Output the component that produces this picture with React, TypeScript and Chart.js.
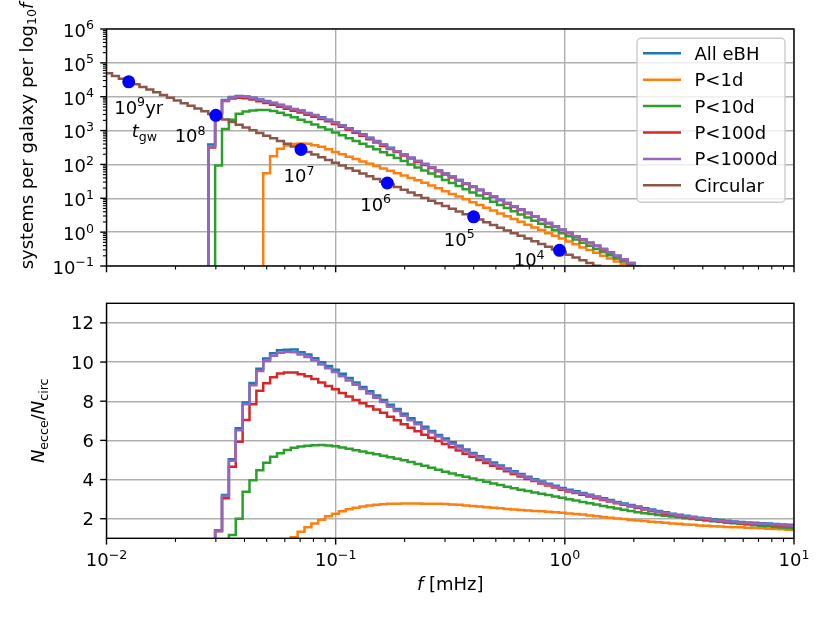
import { useEffect, useRef } from 'react';
import { Chart, registerables } from 'chart.js';

Chart.register(...registerables);

// ---------------------------------------------------------------
// data
// ---------------------------------------------------------------

// histogram bin edges, as log10(f / mHz)
const binEdgeExp = [
  -2.006, -1.976, -1.946, -1.916, -1.886, -1.856, -1.826, -1.796, -1.766, -1.736,
  -1.706, -1.676, -1.646, -1.616, -1.586, -1.556, -1.526, -1.496, -1.466, -1.436,
  -1.406, -1.376, -1.346, -1.316, -1.286, -1.256, -1.226, -1.196, -1.166, -1.136,
  -1.106, -1.076, -1.046, -1.016, -0.986, -0.956, -0.926, -0.896, -0.866, -0.836,
  -0.806, -0.776, -0.746, -0.716, -0.686, -0.656, -0.626, -0.596, -0.566, -0.536,
  -0.506, -0.476, -0.446, -0.416, -0.386, -0.356, -0.326, -0.296, -0.266, -0.236,
  -0.206, -0.176, -0.146, -0.116, -0.086, -0.056, -0.026, 0.004, 0.034, 0.064,
  0.094, 0.124, 0.154, 0.184, 0.214, 0.244, 0.274, 0.304, 0.334, 0.364,
  0.394, 0.424, 0.454, 0.484, 0.514, 0.544, 0.574, 0.604, 0.634, 0.664,
  0.694, 0.724, 0.754, 0.784, 0.814, 0.844, 0.874, 0.904, 0.934, 0.964,
  0.994, 1.024,
];

const xTickExps = [-2, -1, 0, 1];
const topYTickExps = [-1, 0, 1, 2, 3, 4, 5, 6];
const bottomYTicks = [2, 4, 6, 8, 10, 12];

// upper panel: log10(systems per galaxy per log10 f), one value per bin, null = empty
const topAllEBH = [
  null, null, null, null, null, null, null, null, null, null,
  null, null, null, null, null, 2.59, 3.52, 3.90, 3.99, 4.02,
  4.01, 3.97, 3.92, 3.87, 3.82, 3.76, 3.70, 3.64, 3.59, 3.52,
  3.46, 3.39, 3.32, 3.24, 3.16, 3.07, 2.98, 2.89, 2.79, 2.69,
  2.59, 2.49, 2.39, 2.29, 2.20, 2.10, 2.01, 1.92, 1.82, 1.73,
  1.64, 1.54, 1.44, 1.35, 1.25, 1.15, 1.06, 0.96, 0.86, 0.76,
  0.67, 0.57, 0.47, 0.37, 0.27, 0.17, 0.07, -0.02, -0.12, -0.21,
  -0.31, -0.40, -0.50, -0.60, -0.70, -0.80, -0.91, -1.02,
];
const topP1d = [
  null, null, null, null, null, null, null, null, null, null,
  null, null, null, null, null, null, null, null, null, null,
  null, null, null, 1.74, 2.24, 2.46, 2.56, 2.60, 2.62, 2.61,
  2.57, 2.52, 2.45, 2.37, 2.30, 2.23, 2.16, 2.09, 2.02, 1.95,
  1.88, 1.81, 1.74, 1.67, 1.60, 1.53, 1.46, 1.38, 1.30, 1.21,
  1.13, 1.05, 0.97, 0.88, 0.80, 0.72, 0.64, 0.55, 0.47, 0.39,
  0.31, 0.22, 0.14, 0.06, -0.03, -0.11, -0.19, -0.28, -0.36, -0.45,
  -0.53, -0.61, -0.70, -0.78, -0.87, -0.95, -1.04,
];
const topP10d = [
  null, null, null, null, null, null, null, null, null, null,
  null, null, null, null, null, null, 1.97, 3.05, 3.32, 3.50,
  3.56, 3.59, 3.61, 3.61, 3.58, 3.53, 3.46, 3.39, 3.32, 3.25,
  3.18, 3.10, 3.03, 2.94, 2.86, 2.77, 2.69, 2.61, 2.53, 2.45,
  2.36, 2.28, 2.19, 2.10, 2.00, 1.91, 1.82, 1.73, 1.64, 1.54,
  1.45, 1.36, 1.27, 1.17, 1.08, 0.99, 0.90, 0.80, 0.71, 0.62,
  0.52, 0.43, 0.34, 0.25, 0.15, 0.06, -0.03, -0.12, -0.22, -0.31,
  -0.40, -0.50, -0.59, -0.68, -0.78, -0.87, -0.96, -1.06,
];
const topP100d = [
  null, null, null, null, null, null, null, null, null, null,
  null, null, null, null, null, 2.50, 3.50, 3.87, 3.95, 3.97,
  3.955, 3.915, 3.865, 3.815, 3.765, 3.705, 3.645, 3.585, 3.535, 3.465,
  3.405, 3.345, 3.275, 3.195, 3.115, 3.025, 2.935, 2.845, 2.745, 2.645,
  2.545, 2.455, 2.365, 2.265, 2.175, 2.075, 1.985, 1.895, 1.795, 1.705,
  1.615, 1.525, 1.425, 1.335, 1.235, 1.135, 1.045, 0.945, 0.845, 0.745,
  0.655, 0.56, 0.46, 0.36, 0.26, 0.16, 0.06, -0.03, -0.13, -0.22,
  -0.32, -0.41, -0.51, -0.61, -0.71, -0.81, -0.92, -1.03,
];
const topP1000d = [
  null, null, null, null, null, null, null, null, null, null,
  null, null, null, null, null, 2.53, 3.51, 3.89, 3.98, 4.01,
  4.00, 3.96, 3.91, 3.86, 3.81, 3.75, 3.69, 3.63, 3.58, 3.51,
  3.45, 3.38, 3.31, 3.23, 3.15, 3.06, 2.97, 2.88, 2.78, 2.68,
  2.58, 2.48, 2.39, 2.29, 2.20, 2.10, 2.01, 1.92, 1.82, 1.73,
  1.64, 1.54, 1.44, 1.35, 1.25, 1.15, 1.06, 0.96, 0.86, 0.76,
  0.67, 0.57, 0.47, 0.37, 0.27, 0.17, 0.07, -0.02, -0.12, -0.21,
  -0.31, -0.40, -0.50, -0.60, -0.70, -0.80, -0.91, -1.02,
];
const topCircular = [
  4.69, 4.61, 4.53, 4.45, 4.37, 4.29, 4.21, 4.13, 4.05, 3.97,
  3.89, 3.81, 3.73, 3.65, 3.57, 3.49, 3.41, 3.33, 3.25, 3.17,
  3.09, 3.01, 2.93, 2.85, 2.77, 2.69, 2.61, 2.53, 2.45, 2.37,
  2.29, 2.21, 2.13, 2.05, 1.97, 1.89, 1.81, 1.73, 1.65, 1.57,
  1.49, 1.41, 1.33, 1.25, 1.17, 1.09, 1.01, 0.93, 0.85, 0.77,
  0.69, 0.61, 0.53, 0.45, 0.37, 0.29, 0.21, 0.13, 0.05, -0.03,
  -0.11, -0.19, -0.27, -0.35, -0.43, -0.51, -0.59, -0.67, -0.75, -0.83,
  -0.91, -0.99, -1.07,
];

// lower panel: N_ecce / N_circ, one value per bin, null = empty
const ratioAllEBH = [
  null, null, null, null, null, null, null, null, null, null,
  null, null, null, null, null, null, 1.41, 3.21, 5.04, 6.62,
  7.94, 8.93, 9.66, 10.18, 10.45, 10.60, 10.63, 10.64, 10.50, 10.38,
  10.20, 9.99, 9.80, 9.61, 9.40, 9.18, 8.95, 8.73, 8.51, 8.29,
  8.06, 7.82, 7.60, 7.36, 7.13, 6.91, 6.69, 6.48, 6.28, 6.09,
  5.90, 5.72, 5.54, 5.36, 5.19, 5.03, 4.87, 4.72, 4.57, 4.42,
  4.28, 4.14, 4.02, 3.90, 3.79, 3.68, 3.57, 3.48, 3.40, 3.31,
  3.22, 3.13, 3.04, 2.95, 2.86, 2.78, 2.70, 2.62, 2.54, 2.47,
  2.40, 2.33, 2.26, 2.20, 2.15, 2.10, 2.05, 2.01, 1.97, 1.93,
  1.89, 1.86, 1.83, 1.81, 1.79, 1.77, 1.75, 1.73, 1.71, 1.69,
  1.67,
];
const ratioP1d = [
  null, null, null, null, null, null, null, null, null, null,
  null, null, null, null, null, null, null, null, null, null,
  null, null, null, null, null, null, null, 1.05, 1.33, 1.56,
  1.76, 1.95, 2.12, 2.26, 2.38, 2.48, 2.56, 2.62, 2.67, 2.71,
  2.74, 2.76, 2.77, 2.78, 2.78, 2.78, 2.77, 2.77, 2.76, 2.75,
  2.73, 2.71, 2.68, 2.65, 2.62, 2.59, 2.56, 2.53, 2.50, 2.47,
  2.44, 2.42, 2.40, 2.38, 2.36, 2.33, 2.30, 2.27, 2.24, 2.21,
  2.17, 2.13, 2.09, 2.05, 2.01, 1.98, 1.94, 1.91, 1.88, 1.85,
  1.82, 1.79, 1.76, 1.74, 1.71, 1.69, 1.66, 1.64, 1.62, 1.60,
  1.58, 1.57, 1.56, 1.54, 1.52, 1.51, 1.49, 1.47, 1.46, 1.44,
  1.42,
];
const ratioP10d = [
  null, null, null, null, null, null, null, null, null, null,
  null, null, null, null, null, null, null, null, 1.17, 2.00,
  3.38, 3.97, 4.48, 4.86, 5.17, 5.34, 5.51, 5.62, 5.69, 5.73,
  5.75, 5.76, 5.74, 5.70, 5.64, 5.57, 5.50, 5.43, 5.36, 5.29,
  5.22, 5.14, 5.06, 4.98, 4.90, 4.80, 4.70, 4.60, 4.50, 4.40,
  4.31, 4.22, 4.14, 4.06, 3.98, 3.89, 3.80, 3.72, 3.63, 3.55,
  3.48, 3.41, 3.34, 3.27, 3.21, 3.14, 3.07, 3.00, 2.93, 2.86,
  2.79, 2.72, 2.65, 2.58, 2.52, 2.46, 2.40, 2.33, 2.28, 2.24,
  2.19, 2.15, 2.11, 2.07, 2.03, 1.99, 1.95, 1.91, 1.87, 1.84,
  1.80, 1.77, 1.73, 1.70, 1.67, 1.64, 1.61, 1.58, 1.55, 1.52,
  1.49,
];
const ratioP100d = [
  null, null, null, null, null, null, null, null, null, null,
  null, null, null, null, null, null, 1.36, 3.04, 4.66, 5.93,
  7.04, 7.85, 8.54, 8.92, 9.22, 9.42, 9.47, 9.47, 9.38, 9.28,
  9.13, 8.95, 8.78, 8.61, 8.42, 8.24, 8.06, 7.90, 7.74, 7.58,
  7.41, 7.21, 7.03, 6.83, 6.64, 6.47, 6.29, 6.13, 5.97, 5.81,
  5.65, 5.48, 5.32, 5.16, 5.00, 4.85, 4.70, 4.56, 4.42, 4.28,
  4.15, 4.03, 3.92, 3.80, 3.70, 3.59, 3.48, 3.39, 3.31, 3.23,
  3.14, 3.05, 2.96, 2.88, 2.79, 2.71, 2.63, 2.55, 2.47, 2.40,
  2.33, 2.26, 2.20, 2.14, 2.09, 2.04, 1.99, 1.95, 1.91, 1.87,
  1.83, 1.80, 1.77, 1.75, 1.73, 1.71, 1.69, 1.67, 1.65, 1.63,
  1.61,
];
const ratioP1000d = [
  null, null, null, null, null, null, null, null, null, null,
  null, null, null, null, null, null, 1.39, 3.16, 4.96, 6.52,
  7.84, 8.81, 9.54, 10.05, 10.32, 10.48, 10.51, 10.50, 10.38, 10.26,
  10.08, 9.87, 9.68, 9.49, 9.28, 9.06, 8.84, 8.62, 8.40, 8.18,
  7.96, 7.72, 7.50, 7.26, 7.03, 6.82, 6.60, 6.40, 6.20, 6.01,
  5.82, 5.64, 5.46, 5.29, 5.12, 4.96, 4.80, 4.65, 4.50, 4.36,
  4.22, 4.09, 3.97, 3.85, 3.74, 3.63, 3.52, 3.43, 3.35, 3.27,
  3.18, 3.09, 3.00, 2.91, 2.82, 2.74, 2.66, 2.58, 2.50, 2.43,
  2.36, 2.29, 2.23, 2.17, 2.12, 2.07, 2.02, 1.98, 1.94, 1.90,
  1.86, 1.83, 1.80, 1.78, 1.76, 1.74, 1.72, 1.70, 1.68, 1.66,
  1.64,
];

// gravitational-wave inspiral time markers on the circular track
const tgwExps = [9, 8, 7, 6, 5, 4];
const tgwFreq = [0.0125, 0.0300, 0.0706, 0.168, 0.400, 0.948];
const tgwCount = [2.75e4, 2.82e3, 277, 28.3, 2.83, 0.29];

const seriesNames = ['All eBH', 'P<1d', 'P<10d', 'P<100d', 'P<1000d', 'Circular'];
const seriesColors = ['#1f77b4', '#ff7f0e', '#2ca02c', '#d62728', '#9467bd', '#8c564b'];

// ---------------------------------------------------------------
// drawing helpers
// ---------------------------------------------------------------

const FAMILY = '"DejaVu Sans", sans-serif';
const FS = 18;
const SMALL = FS * 0.7;
const GRID = '#b0b0b0';
const TICK_MAJOR = 6.3;
const TICK_MINOR = 3.6;
const TICK_PAD = 6.3;

type Part = { t: string; it?: boolean; sub?: boolean; sup?: boolean };

const partFont = (p: Part) => `${p.it ? 'italic ' : ''}${p.sub || p.sup ? SMALL : FS}px ${FAMILY}`;

function partsWidth(ctx: CanvasRenderingContext2D, parts: Part[]) {
  let w = 0;
  for (const p of parts) {
    ctx.font = partFont(p);
    w += ctx.measureText(p.t).width;
  }
  return w;
}

function drawParts(ctx: CanvasRenderingContext2D, parts: Part[], x: number, y: number) {
  ctx.textAlign = 'left';
  ctx.textBaseline = 'alphabetic';
  let cx = x;
  for (const p of parts) {
    ctx.font = partFont(p);
    ctx.fillText(p.t, cx, y + (p.sup ? -7.4 : p.sub ? 3.8 : 0));
    cx += ctx.measureText(p.t).width;
  }
}

const pow10 = (e: number): Part[] => [{ t: '10' }, { t: e < 0 ? `\u2212${-e}` : `${e}`, sup: true }];

const minorMult = [2, 3, 4, 5, 6, 7, 8, 9];
const xMajor = xTickExps.map((e) => 10 ** e);
const xMinor = xMajor.slice(0, -1).flatMap((d) => minorMult.map((m) => m * d));
const topYMajor = topYTickExps.map((e) => 10 ** e);
const topYMinor = topYMajor.slice(0, -1).flatMap((d) => minorMult.map((m) => m * d));

function line(ctx: CanvasRenderingContext2D, x0: number, y0: number, x1: number, y1: number) {
  ctx.beginPath();
  ctx.moveTo(x0, y0);
  ctx.lineTo(x1, y1);
  ctx.stroke();
}

function drawFrame(ctx: CanvasRenderingContext2D, a: any) {
  ctx.strokeStyle = '#000';
  ctx.lineWidth = 1.4;
  ctx.strokeRect(a.left, a.top, a.right - a.left, a.bottom - a.top);
}

function drawXTicks(ctx: CanvasRenderingContext2D, scale: any, y0: number) {
  ctx.strokeStyle = '#000';
  ctx.lineWidth = 1.4;
  for (const v of xMajor) { const p = scale.getPixelForValue(v); line(ctx, p, y0, p, y0 + TICK_MAJOR); }
  ctx.lineWidth = 1.1;
  for (const v of xMinor) { const p = scale.getPixelForValue(v); line(ctx, p, y0, p, y0 + TICK_MINOR); }
}

function drawYTicks(ctx: CanvasRenderingContext2D, scale: any, x0: number, major: number[], minor: number[]) {
  ctx.strokeStyle = '#000';
  ctx.lineWidth = 1.4;
  for (const v of major) { const p = scale.getPixelForValue(v); line(ctx, x0, p, x0 - TICK_MAJOR, p); }
  ctx.lineWidth = 1.1;
  for (const v of minor) { const p = scale.getPixelForValue(v); line(ctx, x0, p, x0 - TICK_MINOR, p); }
}

function drawRotated(ctx: CanvasRenderingContext2D, parts: Part[], x: number, cy: number) {
  ctx.save();
  ctx.translate(x, cy);
  ctx.rotate(-Math.PI / 2);
  drawParts(ctx, parts, -partsWidth(ctx, parts) / 2, 0);
  ctx.restore();
}

function stepPoints(values: (number | null)[], empty: number, toY: (v: number) => number) {
  const pts = values.map((v, i) => ({ x: 10 ** binEdgeExp[i], y: v === null ? empty : toY(v) }));
  pts.push({ x: 10 ** binEdgeExp[values.length], y: pts[pts.length - 1].y });
  return pts;
}

const stepStyle = (i: number, order: number) => ({
  label: seriesNames[i],
  borderColor: seriesColors[i],
  backgroundColor: seriesColors[i],
  borderWidth: 2.5,
  pointRadius: 0,
  stepped: 'before' as const,
  fill: false,
  order,
});

// text placement of the t_gw labels relative to their markers (px)
const tgwLabelOffset = [[-14.5, 31.8], [-41.2, 26.7], [-17.5, 32.7], [-27.1, 27.7], [-29.8, 29], [-45.8, 15.7]];

const topDecor = {
  id: 'topDecor',
  afterDraw(chart: any) {
    const { ctx, chartArea: a, scales } = chart;
    const xs = scales.x;
    const ys = scales.y;
    ctx.save();
    ctx.fillStyle = '#000';

    // t_gw labels
    tgwExps.forEach((e, i) => {
      const px = xs.getPixelForValue(tgwFreq[i]);
      const py = ys.getPixelForValue(tgwCount[i]);
      const parts = i === 0 ? [...pow10(e), { t: 'yr' }] : pow10(e);
      drawParts(ctx, parts, px + tgwLabelOffset[i][0], py + tgwLabelOffset[i][1]);
      if (i === 0) drawParts(ctx, [{ t: 't', it: true }, { t: 'gw', sub: true }], px + 3, py + 55);
    });

    // legend
    const bw = 148;
    const bh = 164;
    const bx = a.right - 157;
    const by = a.top + 9.3;
    ctx.beginPath();
    if ((ctx as any).roundRect) (ctx as any).roundRect(bx, by, bw, bh, 4);
    else ctx.rect(bx, by, bw, bh);
    ctx.fillStyle = 'rgba(255,255,255,0.8)';
    ctx.fill();
    ctx.strokeStyle = '#cccccc';
    ctx.lineWidth = 1.4;
    ctx.stroke();
    seriesNames.forEach((name, i) => {
      const cy = by + 15 + i * 26.4;
      ctx.strokeStyle = seriesColors[i];
      ctx.lineWidth = 2.5;
      line(ctx, bx + 6, cy, bx + 44, cy);
      ctx.fillStyle = '#000';
      drawParts(ctx, [{ t: name }], bx + 57.5, cy + 6.5);
    });

    // axes
    drawFrame(ctx, a);
    drawXTicks(ctx, xs, a.bottom);
    drawYTicks(ctx, ys, a.left, topYMajor, topYMinor);
    ctx.fillStyle = '#000';
    topYTickExps.forEach((e) => {
      const parts = pow10(e);
      const py = ys.getPixelForValue(10 ** e);
      drawParts(ctx, parts, a.left - TICK_MAJOR - TICK_PAD - partsWidth(ctx, parts), py + 7.8);
    });
    drawRotated(
      ctx,
      [{ t: 'systems per galaxy per log' }, { t: '10', sub: true }, { t: 'f', it: true }],
      32.5,
      136,
    );
    ctx.restore();
  },
};

const bottomDecor = {
  id: 'bottomDecor',
  afterDraw(chart: any) {
    const { ctx, chartArea: a, scales } = chart;
    const xs = scales.x;
    const ys = scales.y;
    ctx.save();
    drawFrame(ctx, a);
    drawXTicks(ctx, xs, a.bottom);
    drawYTicks(ctx, ys, a.left, bottomYTicks, []);
    ctx.fillStyle = '#000';
    xTickExps.forEach((e) => {
      const parts = pow10(e);
      const px = xs.getPixelForValue(10 ** e);
      drawParts(ctx, parts, px - partsWidth(ctx, parts) / 2, a.bottom + 28);
    });
    bottomYTicks.forEach((v) => {
      const parts = [{ t: `${v}` }];
      const py = ys.getPixelForValue(v);
      drawParts(ctx, parts, a.left - TICK_MAJOR - TICK_PAD - partsWidth(ctx, parts), py + 6.5);
    });
    const xTitle: Part[] = [{ t: 'f', it: true }, { t: ' [mHz]' }];
    drawParts(ctx, xTitle, (a.left + a.right) / 2 - partsWidth(ctx, xTitle) / 2, a.bottom + 52);
    drawRotated(
      ctx,
      [{ t: 'N', it: true }, { t: 'ecce', sub: true }, { t: '/' }, { t: 'N', it: true }, { t: 'circ', sub: true }],
      44,
      (a.top + a.bottom) / 2,
    );
    ctx.restore();
  },
};

const baseScale = (fixW: number | null, fixH: number | null) => ({
  ticks: { display: false },
  grid: { color: GRID, lineWidth: 1.4, drawTicks: false },
  border: { display: false },
  afterFit: (s: any) => {
    if (fixW !== null) s.width = fixW;
    if (fixH !== null) s.height = fixH;
  },
});

export default function App() {
  const topRef = useRef<HTMLCanvasElement>(null);
  const bottomRef = useRef<HTMLCanvasElement>(null);

  useEffect(() => {
    if (!topRef.current || !bottomRef.current) return;
    const logY = (v: number) => 10 ** v;
    const same = (v: number) => v;

    const top = new Chart(topRef.current, {
      type: 'line',
      data: {
        datasets: [
          { ...stepStyle(0, 6), data: stepPoints(topAllEBH, 1e-6, logY) },
          { ...stepStyle(1, 5), data: stepPoints(topP1d, 1e-6, logY) },
          { ...stepStyle(2, 4), data: stepPoints(topP10d, 1e-6, logY) },
          { ...stepStyle(3, 3), data: stepPoints(topP100d, 1e-6, logY) },
          { ...stepStyle(4, 2), data: stepPoints(topP1000d, 1e-6, logY) },
          { ...stepStyle(5, 1), data: stepPoints(topCircular, 1e-6, logY) },
          {
            label: 'tgw',
            data: tgwFreq.map((f, i) => ({ x: f, y: tgwCount[i] })),
            showLine: false,
            pointRadius: 6.5,
            pointBackgroundColor: '#0000ff',
            pointBorderWidth: 0,
            order: 0,
          },
        ] as any,
      },
      options: {
        responsive: false,
        animation: false,
        events: [],
        layout: { padding: { top: 29, right: 36, bottom: 0, left: 0 } },
        plugins: { legend: { display: false }, tooltip: { enabled: false } },
        scales: {
          x: {
            type: 'logarithmic', min: 0.01, max: 10, ...baseScale(null, 24),
            afterBuildTicks: (s: any) => { s.ticks = xMajor.map((v) => ({ value: v })); },
          },
          y: {
            type: 'logarithmic', min: 0.1, max: 1e6, ...baseScale(106.5, null),
            afterBuildTicks: (s: any) => { s.ticks = topYMajor.map((v) => ({ value: v })); },
          },
        } as any,
      },
      plugins: [topDecor],
    });

    const bottom = new Chart(bottomRef.current, {
      type: 'line',
      data: {
        datasets: [
          { ...stepStyle(0, 5), data: stepPoints(ratioAllEBH, 0, same) },
          { ...stepStyle(1, 4), data: stepPoints(ratioP1d, 0, same) },
          { ...stepStyle(2, 3), data: stepPoints(ratioP10d, 0, same) },
          { ...stepStyle(3, 2), data: stepPoints(ratioP100d, 0, same) },
          { ...stepStyle(4, 1), data: stepPoints(ratioP1000d, 0, same) },
        ] as any,
      },
      options: {
        responsive: false,
        animation: false,
        events: [],
        layout: { padding: { top: 13.3, right: 36, bottom: 0, left: 0 } },
        plugins: { legend: { display: false }, tooltip: { enabled: false } },
        scales: {
          x: {
            type: 'logarithmic', min: 0.01, max: 10, ...baseScale(null, 84.7),
            afterBuildTicks: (s: any) => { s.ticks = xMajor.map((v) => ({ value: v })); },
          },
          y: {
            type: 'linear', min: 1, max: 13, ...baseScale(106.5, null),
            afterBuildTicks: (s: any) => { s.ticks = bottomYTicks.map((v) => ({ value: v })); },
          },
        } as any,
      },
      plugins: [bottomDecor],
    });

    return () => {
      top.destroy();
      bottom.destroy();
    };
  }, []);

  return (
    <div style={{ position: 'fixed', left: 0, top: 0, width: 830, height: 623, background: '#fff' }}>
      <canvas ref={topRef} width={830} height={290} style={{ display: 'block', width: 830, height: 290 }} />
      <canvas ref={bottomRef} width={830} height={333} style={{ display: 'block', width: 830, height: 333 }} />
    </div>
  );
}
